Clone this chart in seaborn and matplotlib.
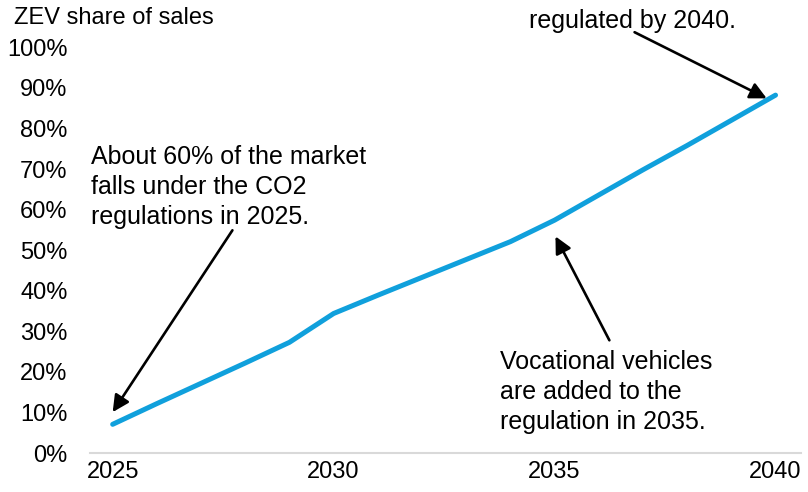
import pandas as pd
import matplotlib.pyplot as plt
import seaborn as sns

# dados
years = [2025, 2026, 2027, 2028, 2029, 2030, 2031, 2032, 2033, 2034,
         2035, 2036, 2037, 2038, 2039, 2040]
zev_share = [7.1, 12.2, 17.2, 22.2, 27.3, 34.4, 38.9, 43.3, 47.7, 52.1,
             57.4, 63.6, 69.8, 75.8, 82.0, 88.2]
y_ticks = [0, 10, 20, 30, 40, 50, 60, 70, 80, 90, 100]
x_ticks = [2025, 2030, 2035, 2040]

df = pd.DataFrame({'year': years, 'share': zev_share})

sns.set_style('white')
plt.rcParams['font.family'] = ['Liberation Sans', 'DejaVu Sans']
plt.rcParams['text.color'] = 'black'
plt.rcParams['xtick.color'] = 'black'
plt.rcParams['ytick.color'] = 'black'

fig = plt.figure(figsize=(8.08, 4.92), dpi=100)
ax = fig.add_axes([0.111, 0.079, 0.88, 0.825])

sns.lineplot(data=df, x='year', y='share', color='#10A0DC', linewidth=3.6,
             solid_capstyle='round', ax=ax)

ax.set_xlim(2024.48, 2040.57)
ax.set_ylim(0, 100)
ax.set_xticks(x_ticks)
ax.set_xticklabels([str(x) for x in x_ticks])
ax.set_yticks(y_ticks)
ax.set_yticklabels([f'{v}%' for v in y_ticks])
ax.tick_params(axis='both', length=0, labelsize=17)
ax.tick_params(axis='y', pad=16)
ax.tick_params(axis='x', pad=6)
ax.set_xlabel('')
ax.set_ylabel('')
for s in ['left', 'right', 'top']:
    ax.spines[s].set_visible(False)
ax.spines['bottom'].set_color('#d9d9d9')
ax.spines['bottom'].set_linewidth(1.5)

fig.text(14 / 808, 1 - 18 / 492, 'ZEV share of sales', fontsize=17, va='center')

arrow = dict(arrowstyle='-|>', color='black', lw=1.9, mutation_scale=25,
             shrinkA=0, shrinkB=0)

# va='baseline' -> baseline da última linha
ax.text(2024.52, 56.4, 'About 60% of the market\nfalls under the CO2\nregulations in 2025.',
        fontsize=18, ha='left', va='baseline', linespacing=1.33)
ax.annotate('', xy=(2025.0, 10.1), xytext=(2027.71, 54.9), arrowprops=arrow)

ax.text(2033.76, 5.9, 'Vocational vehicles\nare added to the\nregulation in 2035.',
        fontsize=18, ha='left', va='baseline', linespacing=1.33)
ax.annotate('', xy=(2035.02, 53.4), xytext=(2036.24, 27.8), arrowprops=arrow)

ax.text(2034.43, 104.7, 'regulated by 2040.', fontsize=18, ha='left',
        va='baseline', clip_on=False)
ax.annotate('', xy=(2039.8, 87.4), xytext=(2036.81, 103.7), arrowprops=arrow,
            annotation_clip=False)

plt.savefig('out.png', dpi=100)
